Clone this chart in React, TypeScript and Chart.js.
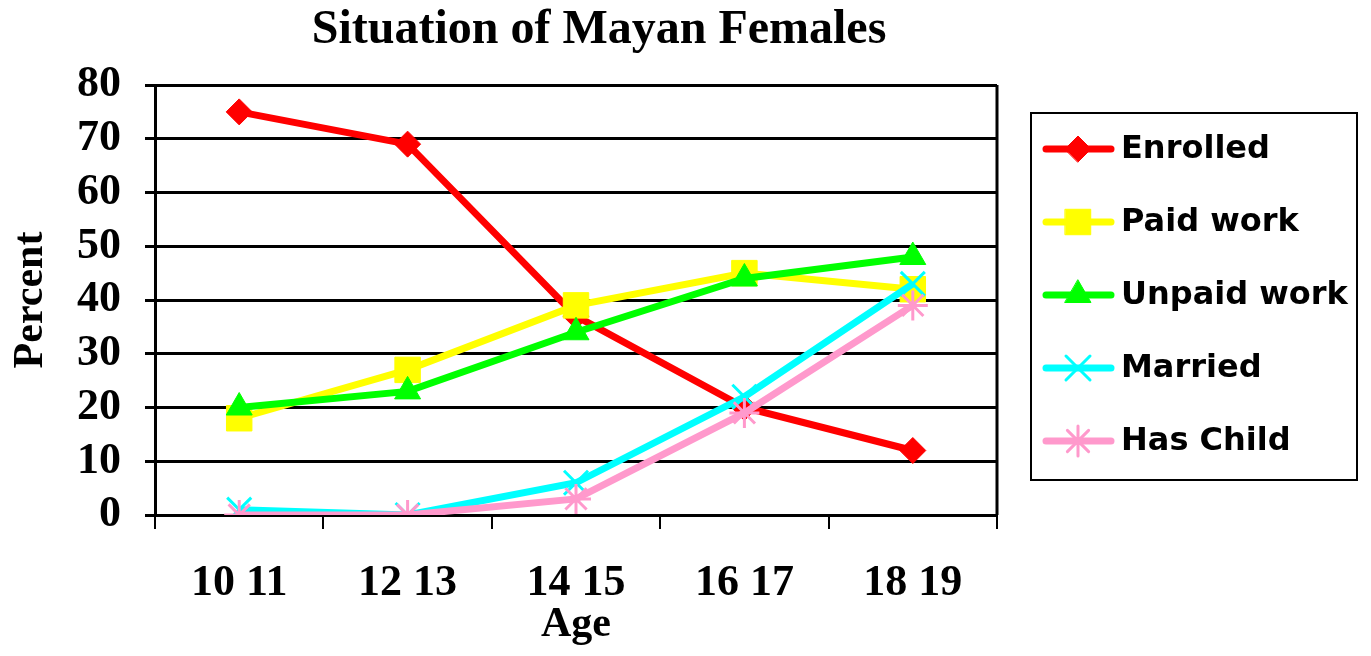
import React, { useEffect, useRef } from 'react';
import { Chart, registerables } from 'chart.js';
import { drawPoint } from 'chart.js/helpers';

Chart.register(...registerables);

const ageGroups = ['10 11', '12 13', '14 15', '16 17', '18 19'];
const enrolled = [75, 69, 37, 20, 12];
const paidWork = [18, 27, 39, 45, 42];
const unpaidWork = [20, 23, 34, 44, 48];
const married = [1, 0, 6, 22, 43];
const hasChild = [0, 0, 3, 19, 39];
const seriesNames = ['Enrolled', 'Paid work', 'Unpaid work', 'Married', 'Has Child'];
const chartTitle = 'Situation of Mayan Females';
const yTitle = 'Percent';
const xTitle = 'Age';

const seriesValues = [enrolled, paidWork, unpaidWork, married, hasChild];
const colors = ['#FF0000', '#FFFF00', '#00FF00', '#00FFFF', '#FF99CC'];
const pointStyles = ['rectRot', 'rect', 'triangle', 'crossRot', 'star'];
const pointRadii = [13, 18, 15, 17, 15];
const pointBorders = [1, 1, 1, 3, 3];

const serif = "'Liberation Serif', 'Times New Roman', serif";
const sans = "'DejaVu Sans', sans-serif";

const extrasPlugin = {
  id: 'extras',
  afterDraw(chart: any) {
    const ctx = chart.ctx;
    const area = chart.chartArea;
    ctx.save();
    // right border of plot
    ctx.strokeStyle = '#000';
    ctx.lineWidth = 3;
    ctx.beginPath();
    ctx.moveTo(area.right, area.top);
    ctx.lineTo(area.right, area.bottom);
    ctx.stroke();
    // title
    ctx.fillStyle = '#000';
    ctx.font = `bold 48px ${serif}`;
    ctx.textAlign = 'center';
    ctx.textBaseline = 'middle';
    ctx.fillText(chartTitle, 599, 31);
    // legend
    const bx = 1031, by = 113, bw = 326, bh = 367;
    ctx.lineWidth = 2;
    ctx.strokeStyle = '#000';
    ctx.strokeRect(bx, by, bw, bh);
    seriesNames.forEach((name, i) => {
      const y = 149 + i * 73;
      ctx.strokeStyle = colors[i];
      ctx.lineWidth = 7;
      ctx.lineCap = 'round';
      ctx.beginPath();
      ctx.moveTo(1046, y);
      ctx.lineTo(1111, y);
      ctx.stroke();
      ctx.fillStyle = colors[i];
      ctx.strokeStyle = colors[i];
      ctx.lineWidth = pointBorders[i];
      drawPoint(ctx, { pointStyle: pointStyles[i], radius: pointRadii[i], borderWidth: pointBorders[i], rotation: 0 } as any, 1078, y);
      ctx.fillStyle = '#000';
      ctx.font = `bold 32px ${sans}`;
      ctx.textAlign = 'left';
      ctx.textBaseline = 'middle';
      ctx.fillText(name, 1121, y + 1);
    });
    ctx.restore();
  },
};

export default function App() {
  const canvasRef = useRef<HTMLCanvasElement | null>(null);

  useEffect(() => {
    const canvas = canvasRef.current;
    if (!canvas) return;
    const datasets = seriesNames.map((name, i) => ({
      label: name,
      data: seriesValues[i],
      borderColor: colors[i],
      backgroundColor: colors[i],
      borderWidth: 7,
      pointStyle: pointStyles[i],
      pointRadius: pointRadii[i],
      pointHoverRadius: pointRadii[i],
      pointBackgroundColor: colors[i],
      pointBorderColor: colors[i],
      pointBorderWidth: pointBorders[i],
      tension: 0,
      fill: false,
      order: seriesNames.length - i,
    }));
    const chart = new Chart(canvas, {
      type: 'line',
      data: { labels: ageGroups, datasets },
      plugins: [extrasPlugin],
      options: {
        responsive: false,
        animation: false,
        maintainAspectRatio: false,
        layout: { padding: { top: 85, right: 374, left: 0, bottom: 0 } },
        plugins: {
          legend: { display: false },
          title: { display: false },
          tooltip: { enabled: false },
        },
        scales: {
          x: {
            type: 'category',
            offset: true,
            afterFit(scale: any) { scale.height = 141; },
            grid: {
              drawOnChartArea: false,
              drawTicks: true,
              tickLength: 14,
              color: '#000',
              lineWidth: 2,
              offset: true,
            },
            border: { color: '#000', width: 3 },
            ticks: {
              color: '#000',
              font: { family: serif, size: 44, weight: 'bold' },
              padding: 28,
              maxRotation: 0,
              autoSkip: false,
            },
            title: {
              display: true,
              text: xTitle,
              color: '#000',
              font: { family: serif, size: 42, weight: 'bold' },
              padding: { top: 0, bottom: 6 },
            },
          },
          y: {
            min: 0,
            max: 80,
            afterFit(scale: any) { scale.width = 155; },
            grid: {
              drawTicks: true,
              tickLength: 10,
              color: '#000',
              lineWidth: 3,
            },
            border: { color: '#000', width: 3 },
            ticks: {
              stepSize: 10,
              autoSkip: false,
              color: '#000',
              font: { family: serif, size: 44, weight: 'bold' },
              padding: 24,
            },
            title: {
              display: true,
              text: yTitle,
              color: '#000',
              font: { family: serif, size: 42, weight: 'bold' },
              padding: { top: 6, bottom: 0 },
            },
          },
        },
      },
    });
    return () => chart.destroy();
  }, []);

  return (
    <div style={{ position: 'absolute', left: 0, top: 0, width: 1371, height: 656, background: '#fff' }}>
      <canvas ref={canvasRef} width={1371} height={656} style={{ width: 1371, height: 656, display: 'block' }} />
    </div>
  );
}
